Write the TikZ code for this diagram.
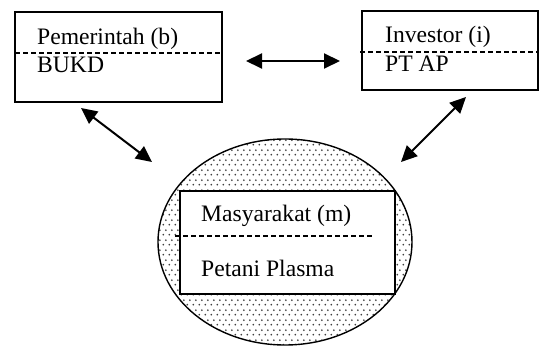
\documentclass[tikz,border=0pt]{standalone}
\usepackage{fontspec}
\setmainfont{Liberation Serif}
\usetikzlibrary{arrows.meta,patterns.meta}
\tikzdeclarepattern{name=mydots, type=uncolored,
  bounding box={(0pt,0pt) and (6pt,10pt)}, tile size={(6pt,10pt)},
  code={\fill (1.5pt,2.5pt) circle (1.1pt); \fill (4.5pt,7.5pt) circle (1.1pt);}}
\begin{document}
\begin{tikzpicture}[x=1pt,y=-1pt,
  box/.style={draw, line width=1.4pt, rectangle, inner sep=0pt},
  txt/.style={anchor=base west, inner sep=0pt, font=\fontsize{23.6}{28}\selectfont},
  sep/.style={dashed, dash pattern=on 5pt off 3pt, line width=1.3pt},
  link/.style={line width=2pt, {Triangle[length=16pt,width=15pt]}-{Triangle[length=16pt,width=15pt]}}]
\useasboundingbox (0,0) rectangle (541,347);
% government box
\node[box, minimum width=207pt, minimum height=90pt] (gov) at (118.5,57) {};
\coordinate (govL) at (15,53);
\coordinate (govR) at (221,53);
\draw[sep] (govL) -- (govR);
\node[txt] (govT) at (37,45) {Pemerintah (b)};
\node[txt] (govS) at (37,73) {BUKD};
% investor box
\node[box, minimum width=176pt, minimum height=79pt] (inv) at (450,50.5) {};
\coordinate (invL) at (360,52);
\coordinate (invR) at (537,52);
\draw[sep] (invL) -- (invR);
\node[txt] (invT) at (385,43) {Investor (i)};
\node[txt] (invS) at (385,72) {PT AP};
% community ellipse
\draw[line width=1.4pt, pattern={mydots}, pattern color=black!75] (285,242) ellipse [x radius=127, y radius=103];
\coordinate (ell) at (285,242);
\node[box, fill=white, minimum width=215pt, minimum height=103pt] (com) at (287.5,242.5) {};
\coordinate (comL) at (175,236);
\coordinate (comR) at (373,236);
\draw[sep] (comL) -- (comR);
\node[txt] (comT) at (201,222) {Masyarakat (m)};
\node[txt] (comS) at (201,277) {Petani Plasma};
% arrows
\coordinate (h1) at (246,61);
\coordinate (h2) at (340,61);
\draw[link] (h1) -- (h2);
\coordinate (l1) at (81,108);
\coordinate (l2) at (152,162);
\draw[link] (l1) -- (l2);
\coordinate (r1) at (466,97);
\coordinate (r2) at (401,162);
\draw[link] (r1) -- (r2);
\end{tikzpicture}
\end{document}
